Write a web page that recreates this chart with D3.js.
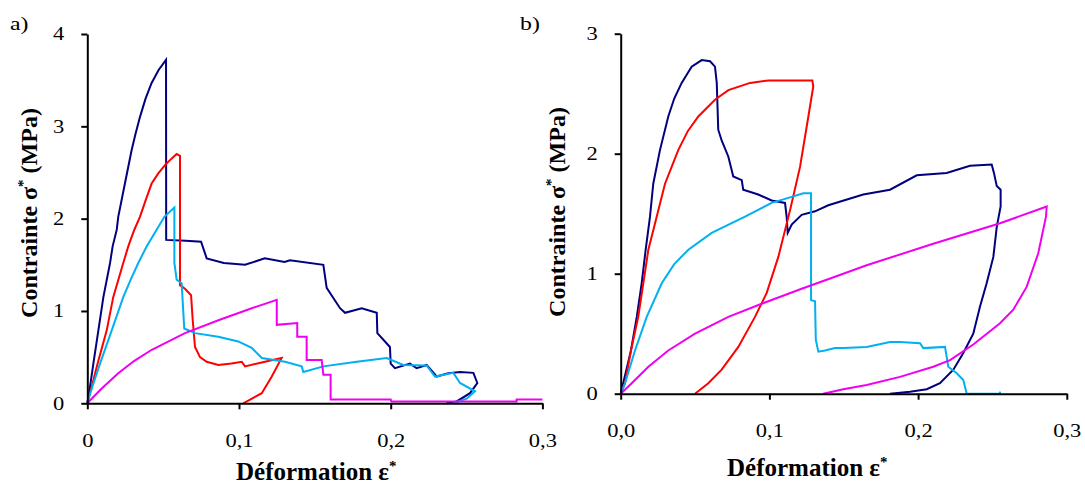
<!DOCTYPE html>
<html>
<head>
<meta charset="utf-8">
<script src="https://cdn.jsdelivr.net/npm/d3@7"></script>
<style>
  html, body { margin: 0; padding: 0; background: #fff; }
  svg { display: block; }
  text { font-family: "Liberation Serif", "Times New Roman", serif; fill: #000; }
</style>
</head>
<body>
<svg id="chart" width="1085" height="486"></svg>
<script>
// ---------- Data (strain ε*, stress σ* in MPa) ----------
const xTickValues = [0, 0.1, 0.2, 0.3];
const xTickLabelsA = ["0", "0,1", "0,2", "0,3"];
const xTickLabelsB = ["0,0", "0,1", "0,2", "0,3"];
const yTickValuesA = [0, 1, 2, 3, 4];
const yTickValuesB = [0, 1, 2, 3];
const seriesColors = ["#000080", "#FF0000", "#00B0F0", "#F000F0"];

// Panel a)
const aNavy = [[0,0],[0.0018,0.18],[0.004,0.43],[0.0073,0.79],[0.0106,1.15],[0.015,1.52],[0.0167,1.70],[0.0194,1.88],[0.0204,2.02],[0.0248,2.38],[0.0292,2.74],[0.0318,2.92],[0.0347,3.10],[0.0384,3.30],[0.0424,3.47],[0.047,3.61],[0.0519,3.72],[0.052,1.77],[0.065,1.76],[0.075,1.75],[0.0787,1.57],[0.09,1.52],[0.104,1.50],[0.117,1.57],[0.13,1.53],[0.1336,1.55],[0.1556,1.50],[0.1578,1.25],[0.1666,1.03],[0.1699,0.98],[0.1809,1.03],[0.1908,0.98],[0.1912,0.76],[0.1995,0.61],[0.2,0.43],[0.2028,0.38],[0.2127,0.43],[0.2171,0.38],[0.2237,0.415],[0.2303,0.29],[0.238,0.325],[0.2457,0.34],[0.2545,0.33],[0.2571,0.22],[0.2523,0.11],[0.2435,0.02],[0.2369,0]];
const aRed = [[0,0],[0.0029,0.18],[0.0068,0.43],[0.0128,0.79],[0.0171,1.15],[0.0237,1.52],[0.027,1.70],[0.031,1.88],[0.0347,2.02],[0.0385,2.20],[0.0424,2.38],[0.0468,2.49],[0.0512,2.58],[0.0555,2.65],[0.0589,2.70],[0.0611,2.68],[0.0611,1.28],[0.0644,1.24],[0.0684,1.17],[0.0695,0.9],[0.071,0.61],[0.0743,0.50],[0.0787,0.45],[0.0864,0.415],[0.095,0.43],[0.1018,0.45],[0.104,0.40],[0.1171,0.45],[0.1281,0.49],[0.1216,0.29],[0.115,0.11],[0.1028,0]];
const aCyan = [[0,0],[0.0033,0.18],[0.0084,0.43],[0.0161,0.79],[0.0237,1.15],[0.0286,1.34],[0.0336,1.52],[0.0392,1.70],[0.0457,1.88],[0.0508,2.02],[0.0574,2.12],[0.0574,1.52],[0.0589,1.34],[0.0622,1.30],[0.0639,0.81],[0.071,0.76],[0.0864,0.72],[0.0995,0.67],[0.1084,0.60],[0.115,0.49],[0.1303,0.45],[0.1413,0.40],[0.1424,0.34],[0.1556,0.40],[0.1776,0.45],[0.1974,0.49],[0.2083,0.415],[0.2237,0.41],[0.2292,0.29],[0.2413,0.33],[0.2457,0.22],[0.2556,0.13],[0.2501,0.05],[0.2413,0]];
const aMagenta = [[0,0],[0.0095,0.16],[0.0204,0.325],[0.031,0.46],[0.0425,0.58],[0.0644,0.76],[0.0864,0.90],[0.1084,1.03],[0.1249,1.12],[0.1249,0.85],[0.1384,0.87],[0.1384,0.72],[0.1446,0.72],[0.1446,0.47],[0.1545,0.47],[0.1556,0.31],[0.1604,0.31],[0.1604,0.04],[0.20,0.04],[0.2005,0.02],[0.283,0.02],[0.283,0.04],[0.30,0.04]];

// Panel b)
const bNavy = [[0,0],[0.0069,0.36],[0.0108,0.64],[0.0141,0.92],[0.0168,1.20],[0.0197,1.475],[0.0219,1.75],[0.0264,2.03],[0.032,2.31],[0.036,2.46],[0.041,2.59],[0.0477,2.725],[0.0545,2.78],[0.0601,2.77],[0.0634,2.725],[0.0646,2.59],[0.0656,2.2],[0.0679,2.11],[0.0724,1.975],[0.0757,1.81],[0.0814,1.78],[0.0824,1.70],[0.0925,1.66],[0.1015,1.61],[0.1105,1.59],[0.1116,1.475],[0.1123,1.34],[0.115,1.41],[0.1217,1.49],[0.1307,1.52],[0.1396,1.57],[0.1631,1.66],[0.1811,1.70],[0.1991,1.82],[0.2192,1.84],[0.2349,1.90],[0.2495,1.91],[0.251,1.84],[0.2529,1.73],[0.2555,1.70],[0.2555,1.56],[0.2529,1.39],[0.2506,1.14],[0.2461,0.92],[0.2416,0.725],[0.2371,0.50],[0.2304,0.34],[0.2237,0.20],[0.2147,0.087],[0.2058,0.037],[0.1946,0.017],[0.1811,0]];
const bRed = [[0,0],[0.0029,0.087],[0.0069,0.36],[0.0118,0.64],[0.0152,0.92],[0.0186,1.20],[0.0242,1.475],[0.0298,1.75],[0.0387,2.03],[0.0452,2.19],[0.0522,2.31],[0.0634,2.45],[0.0724,2.53],[0.087,2.59],[0.0993,2.61],[0.1289,2.61],[0.1295,2.56],[0.1262,2.31],[0.1206,1.89],[0.1139,1.53],[0.106,1.14],[0.0982,0.84],[0.0903,0.64],[0.0791,0.39],[0.0679,0.20],[0.0589,0.087],[0.05,0]];
const bCyan = [[0,0],[0.0029,0.087],[0.0096,0.36],[0.0175,0.64],[0.0276,0.92],[0.036,1.08],[0.0455,1.20],[0.0612,1.34],[0.0836,1.475],[0.1015,1.59],[0.115,1.64],[0.1228,1.67],[0.128,1.67],[0.128,0.78],[0.1307,0.77],[0.1312,0.45],[0.1329,0.35],[0.1374,0.36],[0.1441,0.38],[0.1497,0.38],[0.1654,0.39],[0.1811,0.43],[0.1878,0.43],[0.2013,0.42],[0.2035,0.38],[0.2181,0.39],[0.2203,0.225],[0.226,0.17],[0.2304,0.114],[0.2327,0],[0.255,0],[0.2551,0.017]];
const bMagenta = [[0,0],[0.0074,0.087],[0.0186,0.225],[0.032,0.36],[0.05,0.50],[0.0724,0.64],[0.0948,0.75],[0.1217,0.875],[0.1441,0.975],[0.1654,1.07],[0.2102,1.25],[0.2551,1.42],[0.2865,1.56],[0.286,1.475],[0.2808,1.17],[0.273,0.89],[0.264,0.70],[0.2551,0.587],[0.2371,0.41],[0.2215,0.28],[0.2102,0.225],[0.1878,0.14],[0.1654,0.0725],[0.1497,0.037],[0.1362,0]];

// ---------- Drawing ----------
const svg = d3.select("#chart");
const TICK_STRETCH = 1.25;

function stretchText(sel, k) {
  sel.each(function() {
    const len = this.getComputedTextLength();
    d3.select(this).attr("textLength", len * k).attr("lengthAdjust", "spacingAndGlyphs");
  });
}

function panel(cfg) {
  const x = d3.scaleLinear().domain([0, 0.3]).range([cfg.x0, cfg.x1]);
  const y = d3.scaleLinear().domain([0, cfg.ymax]).range([cfg.y0, cfg.y1]);

  const line = d3.line().x(d => x(d[0])).y(d => y(d[1]));
  const g = svg.append("g");

  cfg.series.forEach((s, i) => {
    g.append("path").datum(s)
      .attr("d", line)
      .attr("fill", "none")
      .attr("stroke", seriesColors[i])
      .attr("stroke-width", 2)
      .attr("stroke-linejoin", "miter");
  });

  const xAxis = d3.axisBottom(x).tickValues(xTickValues)
    .tickFormat((d, i) => cfg.xLabels[i]).tickSize(6).tickSizeOuter(0).tickPadding(25);
  const gx = svg.append("g").attr("transform", `translate(0,${cfg.y0})`).call(xAxis);

  const yAxis = d3.axisLeft(y).tickValues(cfg.yTicks)
    .tickFormat(d => String(d)).tickSize(6).tickSizeOuter(0).tickPadding(17);
  const gy = svg.append("g").attr("transform", `translate(${cfg.x0},0)`).call(yAxis);

  [gx, gy].forEach(ax => {
    ax.select(".domain").attr("stroke", "#000").attr("stroke-width", 2);
    ax.selectAll(".tick line").attr("stroke", "#000").attr("stroke-width", 2);
    ax.selectAll(".tick text").attr("font-family", "Liberation Serif").attr("font-size", 18).attr("fill", "#000");
  });
  stretchText(gx.selectAll(".tick text"), TICK_STRETCH);
  stretchText(gy.selectAll(".tick text"), TICK_STRETCH);

  // panel letter
  const lab = svg.append("text").attr("x", cfg.labX).attr("y", cfg.labY)
    .attr("font-size", 19).text(cfg.label);
  stretchText(lab, TICK_STRETCH);

  // x title
  const xt = svg.append("text").attr("x", cfg.xtX).attr("y", cfg.xtY)
    .attr("font-size", 25).attr("font-weight", "bold");
  xt.append("tspan").text("Déformation ε");
  xt.append("tspan").attr("dy", -9).attr("font-size", 15).text("*");

  // y title
  const yt = svg.append("text")
    .attr("transform", `translate(${cfg.ytX},${cfg.ytY}) rotate(-90)`)
    .attr("text-anchor", "middle")
    .attr("font-size", 24).attr("font-weight", "bold");
  yt.append("tspan").text("Contrainte σ");
  yt.append("tspan").attr("dy", -9).attr("font-size", 15).text("*");
  yt.append("tspan").attr("dy", 9).text(" (MPa)");
}

panel({
  x0: 87.3, x1: 542.4, y0: 403.3, y1: 34, ymax: 4,
  xLabels: xTickLabelsA, yTicks: yTickValuesA,
  series: [aNavy, aRed, aCyan, aMagenta],
  label: "a)", labX: 10, labY: 30,
  xtX: 236, xtY: 480, ytX: 37, ytY: 213
});

panel({
  x0: 620.7, x1: 1066.8, y0: 393.7, y1: 33.7, ymax: 3,
  xLabels: xTickLabelsB, yTicks: yTickValuesB,
  series: [bNavy, bRed, bCyan, bMagenta],
  label: "b)", labX: 520, labY: 30,
  xtX: 727, xtY: 476, ytX: 565, ytY: 212
});
</script>
</body>
</html>
